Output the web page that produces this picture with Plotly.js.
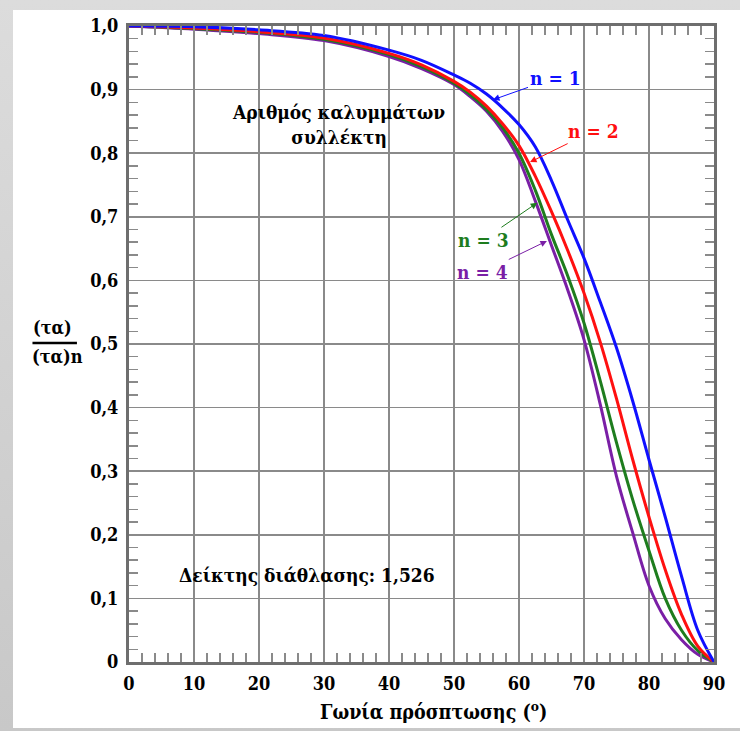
<!DOCTYPE html>
<html>
<head>
<meta charset="utf-8">
<script src="https://cdn.plot.ly/plotly-3.0.1.min.js"></script>
<style>
html,body{margin:0;padding:0;width:740px;height:731px;overflow:hidden;background:#cfcfcf;}
#frame{position:absolute;left:0;top:0;width:740px;height:731px;background:linear-gradient(#dcdcdc,#c8c8c8);}
#chart{position:absolute;left:13px;top:10px;width:727px;height:718px;background:#fff;}
</style>
</head>
<body>
<div id="frame"></div>
<div id="chart"></div>
<script>
// Curve data (angle of incidence in degrees, relative (τα)/(τα)n)
const angleDeg = [0, 10, 20, 30, 40, 45, 50, 52.5, 55, 57.5, 60, 62.5, 65, 67.5, 70, 72.5, 75, 77.5, 80, 82.5, 85, 87.5, 90];
const n1Value = [1.000, 0.999, 0.994, 0.985, 0.962, 0.946, 0.923, 0.910, 0.893, 0.871, 0.845, 0.810, 0.757, 0.695, 0.635, 0.566, 0.494, 0.410, 0.318, 0.228, 0.135, 0.050, 0.000];
const n2Value = [1.000, 0.997, 0.991, 0.981, 0.957, 0.939, 0.913, 0.896, 0.874, 0.846, 0.812, 0.764, 0.708, 0.647, 0.580, 0.503, 0.414, 0.318, 0.228, 0.145, 0.075, 0.025, 0.000];
const n3Value = [1.000, 0.996, 0.990, 0.979, 0.955, 0.936, 0.910, 0.892, 0.869, 0.840, 0.800, 0.742, 0.672, 0.607, 0.533, 0.442, 0.345, 0.255, 0.175, 0.100, 0.050, 0.018, 0.000];
const n4Value = [1.000, 0.995, 0.988, 0.977, 0.952, 0.933, 0.908, 0.889, 0.866, 0.834, 0.790, 0.725, 0.655, 0.585, 0.507, 0.405, 0.292, 0.203, 0.120, 0.068, 0.035, 0.012, 0.000];

const seriesNames = ['n = 1', 'n = 2', 'n = 3', 'n = 4'];
const seriesColors = ['#1010ff', '#ff1010', '#1e7d1e', '#7a1fa6'];

const yTickVals = [0, 0.1, 0.2, 0.3, 0.4, 0.5, 0.6, 0.7, 0.8, 0.9, 1.0];
const yTickText = ['0', '0,1', '0,2', '0,3', '0,4', '0,5', '0,6', '0,7', '0,8', '0,9', '1,0'];
const xTickVals = [0, 10, 20, 30, 40, 50, 60, 70, 80, 90];
const xTickText = ['0', '10', '20', '30', '40', '50', '60', '70', '80', '90'];

// label anchor points (arrow tips) on each curve
const labelTipAngle = [56.0, 61.7, 62.8, 64.3];
const labelTipValue = [0.884, 0.786, 0.722, 0.662];

const values = [n1Value, n2Value, n3Value, n4Value];

const serif = '"DejaVu Serif Condensed", "DejaVu Serif", serif';
const traces = values.map((v, i) => ({
  x: angleDeg, y: v, type: 'scatter', mode: 'lines', name: seriesNames[i],
  line: {color: seriesColors[i], width: 3, shape: 'spline', smoothing: 1},
  hoverinfo: 'skip'
})).reverse();

const labelOffsets = [[62, -22], [63, -31], [-54, 37], [-64, 31]];
const annotations = seriesNames.map((nm, i) => ({
  x: labelTipAngle[i], y: labelTipValue[i], xref: 'x', yref: 'y',
  text: '<b>' + nm + '</b>', showarrow: true, ax: labelOffsets[i][0], ay: labelOffsets[i][1],
  arrowhead: 2, arrowsize: 1.3, arrowwidth: 1, arrowcolor: seriesColors[i],
  font: {family: serif, size: 19, color: seriesColors[i]}
}));

annotations.push(
  {x: 32.3, y: 0.845, xref: 'x', yref: 'y', showarrow: false,
   text: '<b>Αριθμός καλυμμάτων</b><br><b>συλλέκτη</b>',
   font: {family: serif, size: 19, color: '#000'}},
  {x: 27.4, y: 0.137, xref: 'x', yref: 'y', showarrow: false,
   text: '<b>Δείκτης διάθλασης: 1,526</b>',
   font: {family: serif, size: 19, color: '#000'}},
  {x: -0.1316, y: 0.526, xref: 'paper', yref: 'paper', xanchor: 'center', yanchor: 'middle', showarrow: false,
   text: '<b>(τα)</b>', font: {family: serif, size: 18, color: '#000'}},
  {x: -0.123, y: 0.480, xref: 'paper', yref: 'paper', xanchor: 'center', yanchor: 'middle', showarrow: false,
   text: '<b>(τα)n</b>', font: {family: serif, size: 18, color: '#000'}},
  {x: 0.52, y: -0.077, xref: 'paper', yref: 'paper', xanchor: 'center', yanchor: 'middle', showarrow: false,
   text: '<b>Γωνία πρόσπτωσης (<sup>o</sup>)</b>', font: {family: serif, size: 19.5, color: '#000'}}
);

const axisCommon = {
  showline: true, linecolor: '#6e6e6e', linewidth: 3, mirror: 'allticks',
  showgrid: true, gridcolor: '#8a8a8a', gridwidth: 1.5, zeroline: false,
  ticks: 'inside', ticklen: 9, tickcolor: '#8a8a8a', tickwidth: 1.5,
  tickfont: {family: serif, size: 18, color: '#000', weight: 'bold'}
};

const layout = {
  width: 727, height: 718,
  margin: {l: 116, r: 26, t: 16, b: 66},
  paper_bgcolor: '#ffffff', plot_bgcolor: '#ffffff',
  showlegend: false,
  font: {family: serif},
  xaxis: Object.assign({}, axisCommon, {
    range: [0, 90], tickmode: 'array', tickvals: xTickVals, ticktext: xTickText,
    ticklabelstandoff: 3,
    minor: {dtick: 2, ticks: 'inside', ticklen: 9, tickcolor: '#8a8a8a', tickwidth: 1.5, showgrid: false}
  }),
  yaxis: Object.assign({}, axisCommon, {
    range: [0, 1], tickmode: 'array', tickvals: yTickVals, ticktext: yTickText,
    ticklabelstandoff: 4,
    minor: {dtick: 0.02, ticks: 'inside', ticklen: 9, tickcolor: '#8a8a8a', tickwidth: 1.5, showgrid: false}
  }),
  shapes: [
    {type: 'line', xref: 'paper', yref: 'paper', x0: -0.165, x1: -0.089, y0: 0.5016, y1: 0.5016,
     line: {color: '#000', width: 2.5}}
  ],
  annotations: annotations
};

Plotly.newPlot('chart', traces, layout, {displayModeBar: false, staticPlot: true});
</script>
</body>
</html>
